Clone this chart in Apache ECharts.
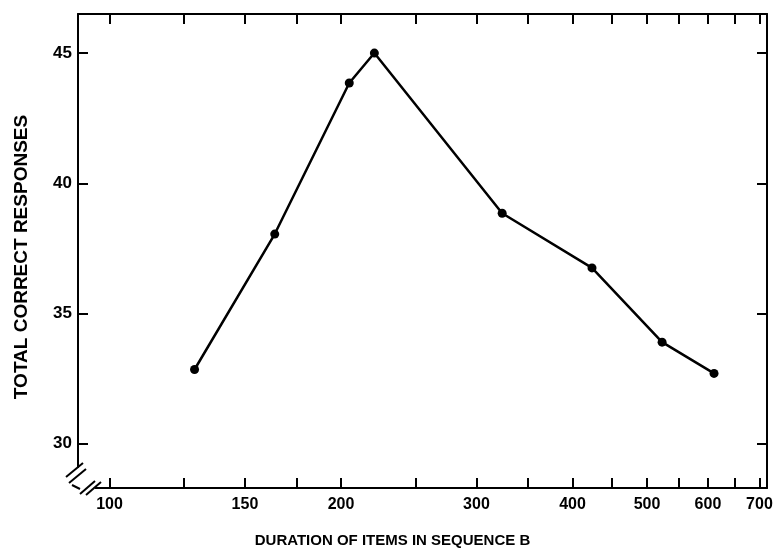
<!DOCTYPE html>
<html>
<head>
<meta charset="utf-8">
<script src="https://cdn.jsdelivr.net/npm/echarts@6/dist/echarts.min.js"></script>
<style>
  html, body { margin: 0; padding: 0; background: #fff; }
  #chart { width: 774px; height: 553px; }
</style>
</head>
<body>
<div id="chart"></div>
<script>
// durations (x, log axis) and total correct responses (y)
var durations = [129, 164, 205, 221, 324, 424, 523, 611];
var responses = [32.85, 38.05, 43.85, 45.0, 38.85, 36.75, 33.9, 32.7];
var xLabelValues = [100, 150, 200, 300, 400, 500, 600, 700];
var xTickValues = [100, 125, 150, 175, 200, 250, 300, 350, 400, 450, 500, 550, 600, 650, 700];
var yTickValues = [30, 35, 40, 45];

var chart = echarts.init(document.getElementById('chart'));
var fontFam = 'Liberation Sans';

var pts = [];
for (var i = 0; i < durations.length; i++) {
	pts.push([durations[i], responses[i]]);
}

// axis break marks in the lower left corner
var brk = { stroke: '#000', lineWidth: 2 };

var option = {
	backgroundColor: '#fff',
	animation: false,
	grid: {
		left: 78,
		right: 7,
		top: 14,
		bottom: 65,
		show: false,
		outerBoundsMode: 'none',
		containLabel: false
	},
	xAxis: [{
		type: 'log',
		min: 91,
		max: 716,
		position: 'bottom',
		name: 'DURATION OF ITEMS IN SEQUENCE B',
		nameLocation: 'middle',
		nameGap: 45,
		nameTextStyle: { color: '#000', fontSize: 15, fontWeight: 'bold', fontFamily: fontFam, padding: [0, 60, 0, 0] },
		axisLine: { show: true, lineStyle: { color: '#000', width: 2 } },
		axisTick: { show: true, inside: true, length: 10, customValues: xTickValues, lineStyle: { color: '#000', width: 2 } },
		axisLabel: { show: true, customValues: xLabelValues, color: '#000', fontSize: 16, fontWeight: 'bold', fontFamily: fontFam, margin: 9 },
		splitLine: { show: false }
	}, {
		type: 'log',
		min: 91,
		max: 716,
		position: 'top',
		axisLine: { show: true, lineStyle: { color: '#000', width: 2 } },
		axisTick: { show: true, inside: true, length: 10, customValues: xTickValues, lineStyle: { color: '#000', width: 2 } },
		axisLabel: { show: false },
		splitLine: { show: false }
	}],
	yAxis: [{
		type: 'value',
		min: 28.3,
		max: 46.5,
		position: 'left',
		name: 'TOTAL CORRECT RESPONSES',
		nameLocation: 'middle',
		nameGap: 47,
		nameRotate: 90,
		nameTextStyle: { color: '#000', fontSize: 19, fontWeight: 'bold', fontFamily: fontFam, padding: [0, 12, 0, 0] },
		axisLine: { show: true, lineStyle: { color: '#000', width: 2 } },
		axisTick: { show: true, inside: true, length: 10, customValues: yTickValues, lineStyle: { color: '#000', width: 2 } },
		axisLabel: { show: true, customValues: yTickValues, color: '#000', fontSize: 17, fontWeight: 'bold', fontFamily: fontFam, margin: 6 },
		splitLine: { show: false }
	}, {
		type: 'value',
		min: 28.3,
		max: 46.5,
		position: 'right',
		axisLine: { show: true, lineStyle: { color: '#000', width: 2 } },
		axisTick: { show: true, inside: true, length: 10, customValues: yTickValues, lineStyle: { color: '#000', width: 2 } },
		axisLabel: { show: false },
		splitLine: { show: false }
	}],
	graphic: [
		{ type: 'rect', shape: { x: 70, y: 462, width: 30, height: 32 }, style: { fill: '#fff' }, z: 100 },
		{ type: 'line', shape: { x1: 78, y1: 462, x2: 78, y2: 468 }, style: brk, z: 101 },
		{ type: 'line', shape: { x1: 66, y1: 477, x2: 83, y2: 463 }, style: brk, z: 101 },
		{ type: 'line', shape: { x1: 69, y1: 483, x2: 86, y2: 469 }, style: brk, z: 101 },
		{ type: 'line', shape: { x1: 72, y1: 485, x2: 80, y2: 489 }, style: brk, z: 101 },
		{ type: 'line', shape: { x1: 80, y1: 494, x2: 95, y2: 481 }, style: brk, z: 101 },
		{ type: 'line', shape: { x1: 86, y1: 495, x2: 101, y2: 482 }, style: brk, z: 101 },
		{ type: 'line', shape: { x1: 95, y1: 488, x2: 101, y2: 488 }, style: brk, z: 101 }
	],
	series: [{
		type: 'line',
		data: pts,
		symbol: 'circle',
		symbolSize: 9,
		itemStyle: { color: '#000' },
		lineStyle: { color: '#000', width: 2.5 }
	}]
};
chart.setOption(option);
</script>
</body>
</html>
